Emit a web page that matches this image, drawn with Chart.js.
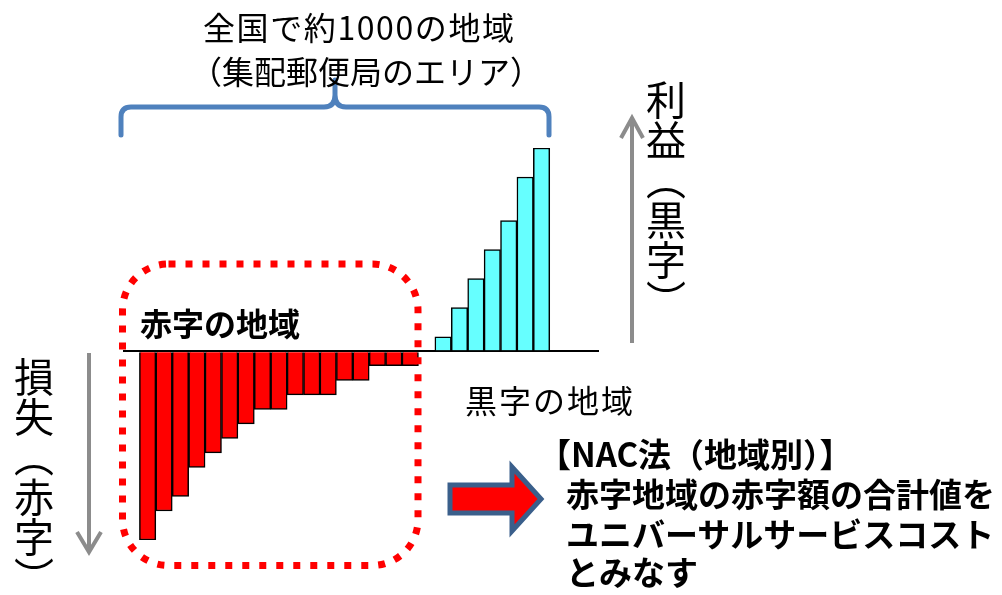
<!DOCTYPE html>
<html>
<head>
<meta charset="utf-8">
<script src="https://cdn.jsdelivr.net/npm/chart.js@4/dist/chart.umd.min.js"></script>
<style>
  html, body { margin: 0; padding: 0; background: #fff; }
  #wrap { position: relative; width: 1002px; height: 595px; overflow: hidden; font-family: "Noto Sans CJK JP", sans-serif; color: #000; }
  #chartBox { position: absolute; left: 0; top: 0; width: 1002px; height: 595px; }
  svg { position: absolute; left: 0; top: 0; }
  .t { position: absolute; white-space: nowrap; line-height: 1; }
  .vert { writing-mode: vertical-rl; font-size: 40px; }
  .note { font-weight: bold; font-size: 33px; }
</style>
</head>
<body>
<div id="wrap">
  <div id="chartBox"><canvas id="nacChart"></canvas></div>

  <svg width="1002" height="595">
    <!-- 中括弧 -->
    <path d="M121,135 V117 Q121,107 131,107 H324 Q335,107 335,95 V80 M549,135 V117 Q549,107 539,107 H346 Q335,107 335,95"
          fill="none" stroke="#4F81BD" stroke-width="5" stroke-linecap="round" stroke-linejoin="round"/>
    <!-- 赤字の地域の点線枠 -->
    <rect x="122.5" y="264" width="295.5" height="301.5" rx="46" ry="46"
          fill="none" stroke="#FF0000" stroke-width="7" stroke-dasharray="7 10"/>
    <!-- 灰色の矢印 -->
    <g stroke="#8C8C8C" stroke-width="4" fill="none">
      <line x1="632" y1="343" x2="632" y2="119"/>
      <polyline points="621,138 632,118 643,138"/>
      <line x1="89" y1="353" x2="89" y2="550"/>
      <polyline points="77,532 89,552 101,532"/>
    </g>
    <!-- 赤い矢印 -->
    <polygon points="450,485 512,485 512,467 541,499 512,531 512,513 450,513"
             fill="#FF0000" stroke="#3A5F8B" stroke-width="5" stroke-linejoin="miter"/>
  </svg>

  <div class="t" style="left:203px; top:10px; font-size:32px; letter-spacing:1.6px;">全国で約1000の地域</div>
  <div class="t" style="left:190px; top:54px; font-size:32px;">（集配郵便局のエリア）</div>
  <div class="t" style="left:140px; top:306px; font-size:32px; font-weight:bold;">赤字の地域</div>
  <div class="t" style="left:465px; top:383px; font-size:32px; letter-spacing:2px;">黒字の地域</div>
  <div class="t vert" style="left:646px; top:80px;">利益（黒字）</div>
  <div class="t vert" style="left:14px; top:357px;">損失（赤字）</div>
  <div class="t note" style="left:538px; top:437px;">【NAC法（地域別）】</div>
  <div class="t note" style="left:566px; top:477px;">赤字地域の赤字額の合計値を</div>
  <div class="t note" style="left:566px; top:517px;">ユニバーサルサービスコスト</div>
  <div class="t note" style="left:566px; top:555px;">とみなす</div>
</div>

<script>
// 地域（左端・中央・右端は空き）
const regions = ['', 'r1', 'r2', 'r3', 'r4', 'r5', 'r6', 'r7', 'r8', 'r9', 'r10', 'r11', 'r12',
    'r13', 'r14', 'r15', 'r16', 'r17', '', 'b1', 'b2', 'b3', 'b4', 'b5', 'b6', 'b7', '', '', ''];
// 赤字額（損失）
const deficits = [-13, -11, -10, -8, -7, -6, -5, -4, -4, -3, -3, -3, -2, -2, -1, -1, -1];
// 黒字額（利益）
const surpluses = [1, 3, 5, 7, 9, 12, 14];
const yMin = -13;
const yMax = 14;

// 空きの区画は null
const deficitData = [null, ...deficits, null, ...surpluses.map(() => null), null, null, null];
const surplusData = [null, ...deficits.map(() => null), null, ...surpluses, null, null, null];

new Chart(document.getElementById('nacChart'), {
    type: 'bar',
    data: {
        labels: regions,
        datasets: [{
            label: '赤字',
            data: deficitData,
            backgroundColor: '#FF0000',
            borderColor: '#000',
            borderWidth: 1.5
        }, {
            label: '黒字',
            data: surplusData,
            backgroundColor: '#66FFFF',
            borderColor: '#000',
            borderWidth: 1.5
        }]
    },
    options: {
        responsive: true,
        maintainAspectRatio: false,
        animation: false,
        layout: { padding: { left: 123, right: 403, top: 148, bottom: 55 } },
        plugins: { legend: { display: false }, tooltip: { enabled: false } },
        datasets: { bar: { barPercentage: 1, categoryPercentage: 1 } },
        scales: {
            x: { display: false, stacked: true },
            y: {
                stacked: true,
                min: yMin,
                max: yMax,
                ticks: { display: false, stepSize: 1 },
                border: { display: false },
                grid: {
                    drawTicks: false,
                    color: ctx => ctx.tick.value === 0 ? '#000' : 'rgba(0,0,0,0)',
                    lineWidth: 2
                }
            }
        }
    }
});
</script>
</body>
</html>
